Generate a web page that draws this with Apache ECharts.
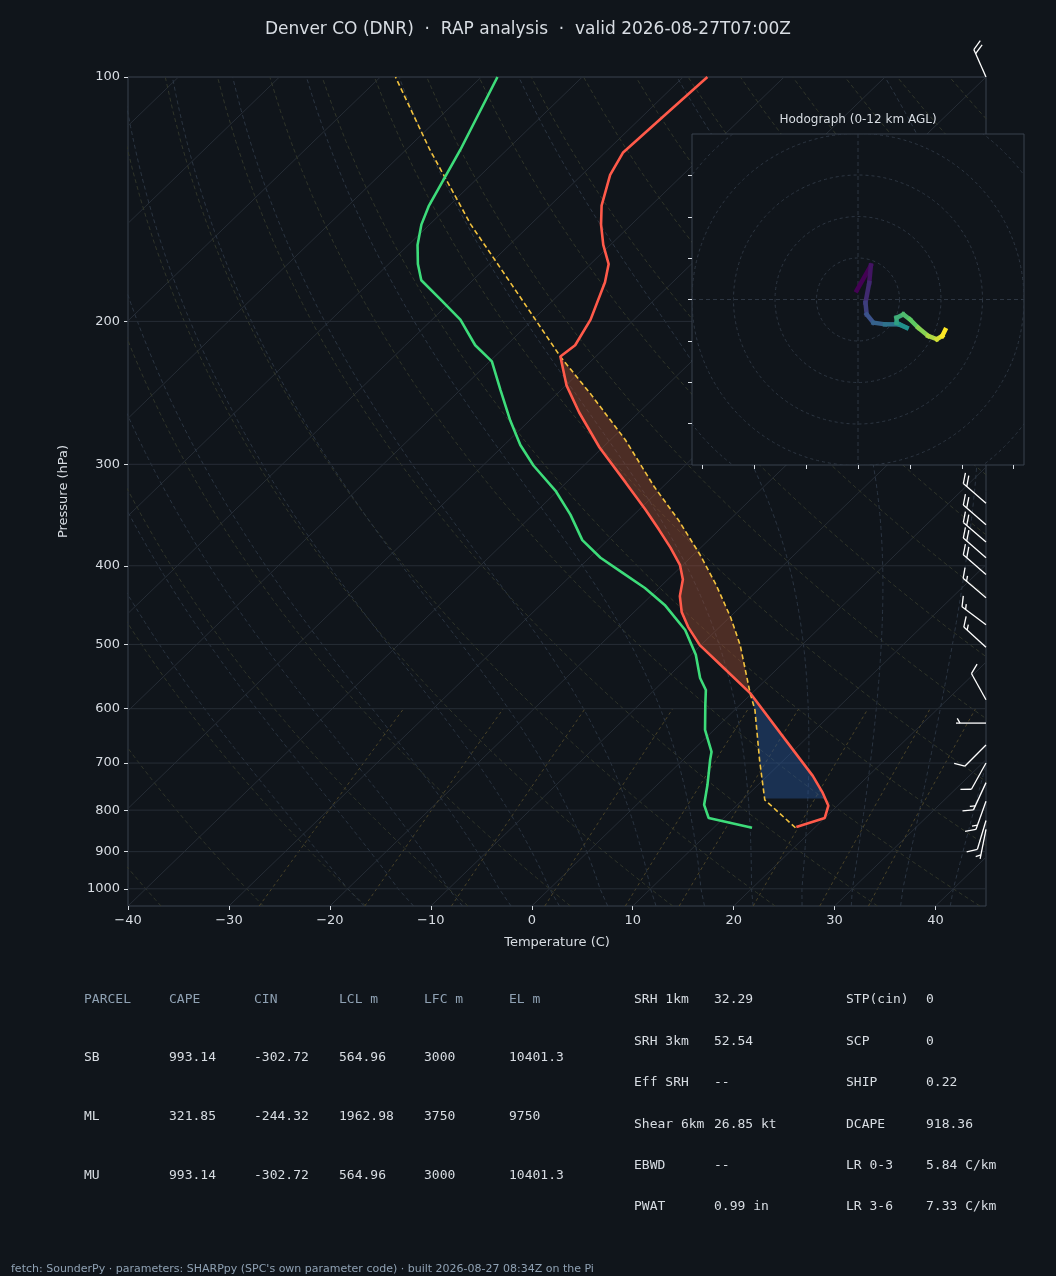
<!DOCTYPE html>
<html>
<head>
<meta charset="utf-8">
<script src="https://cdn.jsdelivr.net/npm/echarts@6/dist/echarts.min.js"></script>
<style>
html,body{margin:0;padding:0;background:#10151b;}
#chart{width:1056px;height:1276px;}
</style>
</head>
<body>
<div id="chart"></div>
<script>
// sounding: pressure (hPa) and temperature (C)
var tempP = [839, 818, 790, 760, 726, 643, 574, 530, 501, 476, 456, 436, 416, 399, 380, 361, 341, 316, 286, 259, 240, 221, 214, 199, 179, 170, 161, 152, 144, 132, 124, 111, 100];
var tempT = [18.1, 20.0, 19.1, 17.1, 14.5, 6.9, -0.2, -6.0, -10.1, -13.1, -15.3, -17.1, -18.5, -20.3, -23.0, -26.0, -29.4, -34.1, -40.3, -45.9, -49.9, -53.5, -53.2, -54.3, -56.7, -58.2, -60.7, -63.0, -64.9, -67.2, -68.2, -67.9, -67.6];
var dewP = [841, 818, 788, 745, 694, 678, 637, 594, 569, 550, 515, 480, 447, 426, 407, 391, 372, 346, 324, 301, 284, 265, 243, 224, 214, 199, 188, 178, 170, 161, 152, 144, 123, 100];
var dewT = [13.8, 8.5, 6.7, 5.0, 2.7, 2.0, -0.9, -3.4, -4.9, -6.7, -9.5, -13.1, -17.7, -21.4, -25.4, -28.9, -32.5, -36.3, -40.1, -45.0, -48.4, -51.9, -56.0, -59.8, -63.1, -67.2, -71.2, -75.1, -77.1, -79.1, -80.8, -82.0, -84.6, -88.4];
var parcelP = [841, 777, 694, 602, 574, 501, 463, 422, 388, 351, 320, 280, 246, 221, 186, 152, 123, 100];
var parcelT = [18.1, 12.2, 7.6, 2.0, -0.2, -6.1, -9.9, -14.7, -19.3, -25.1, -30.8, -38.5, -46.6, -53.5, -63.8, -75.9, -87.6, -98.5];
var cinLayer = [774, 574];
var capeLayer = [574, 221];

// wind barbs (kt)
var barbP = [100, 335, 356, 374, 391, 410, 438, 473, 504, 585, 625, 665, 700, 740, 780, 824, 845];
var barbU = [8, 15, 15, 15, 15, 15, 13, 12, 11, 5, 5, 7, 5, 6, 5, 3, 1];
var barbV = [-18, -13, -13, -13, -13, -13, -11, -9, -10, -9, 0, 7, 9, 13, 14, 10, 5];

// hodograph (kt)
var hodoU = [-0.3, 3.1, 2.7, 1.8, 2.1, 3.7, 6.5, 9.7, 11.7, 9.3, 9.3, 10.9, 12.5, 14.5, 16.9, 19.0, 20.3, 21.0];
var hodoV = [2.2, 8.2, 4.0, -0.8, -3.6, -5.6, -6.0, -6.0, -6.8, -5.6, -4.4, -3.6, -4.8, -6.8, -8.8, -9.6, -8.8, -7.4];
var hodoRings = [10, 20, 30, 40, 50];

var pressureTicks = [100, 200, 300, 400, 500, 600, 700, 800, 900, 1000];
var tempTicks = [-40, -30, -20, -10, 0, 10, 20, 30, 40];

var tableHead = ['PARCEL', 'CAPE', 'CIN', 'LCL m', 'LFC m', 'EL m'];
var tableRows = [
	['SB', '993.14', '-302.72', '564.96', '3000', '10401.3'],
	['ML', '321.85', '-244.32', '1962.98', '3750', '9750'],
	['MU', '993.14', '-302.72', '564.96', '3000', '10401.3']
];
var indexA = [['SRH 1km', '32.29'], ['SRH 3km', '52.54'], ['Eff SRH', '--'], ['Shear 6km', '26.85 kt'], ['EBWD', '--'], ['PWAT', '0.99 in']];
var indexB = [['STP(cin)', '0'], ['SCP', '0'], ['SHIP', '0.22'], ['DCAPE', '918.36'], ['LR 0-3', '5.84 C/km'], ['LR 3-6', '7.33 C/km']];

var PBOT = 1050, PTOP = 100;
function skewX(t, p) {
	return t + 85 * Math.log(PBOT / p) / Math.log(PBOT / PTOP);
}
function pts(P, T) {
	var out = [];
	for (var i = 0; i < P.length; i++) out.push([skewX(T[i], P[i]), Math.log(P[i])]);
	return out;
}
function interpT(P, T, p) {
	var lp = Math.log(p);
	for (var i = 0; i < P.length - 1; i++) {
		var a = Math.log(P[i]), b = Math.log(P[i + 1]);
		if ((lp <= a && lp >= b) || (lp >= a && lp <= b)) {
			return T[i] + (T[i + 1] - T[i]) * (lp - a) / (b - a);
		}
	}
	return T[T.length - 1];
}

// background reference lines
var bg = [];
function bgLine(data, color, type, w) {
	bg.push({type: 'line', xAxisIndex: 0, yAxisIndex: 0, data: data, showSymbol: false, silent: true, z: 1,
		lineStyle: {color: color, width: w || 1, type: type}});
}
for (var t = -120; t <= 40; t += 10) {
	bgLine([[skewX(t, PBOT), Math.log(PBOT)], [skewX(t, PTOP), Math.log(PTOP)]], '#262d36', 'solid');
}
for (var th = -40; th <= 200; th += 10) {
	var d = [];
	for (var p = PBOT; p >= PTOP; p -= 10) {
		var tk = (th + 273.15) * Math.pow(p / 1000, 0.2857) - 273.15;
		d.push([skewX(tk, p), Math.log(p)]);
	}
	bgLine(d, '#30352a', [4, 3]);
}
function moistStep(tk, p) {
	var tc = tk - 273.15;
	var es = 6.112 * Math.exp(17.67 * tc / (tc + 243.5));
	var rs = 0.622 * es / (p - es);
	var Rd = 287.04, Lv = 2.501e6, Cp = 1005.7;
	return (1 / p) * (Rd * tk + Lv * rs) / (Cp + Lv * Lv * rs * 0.622 / (Rd * tk * tk));
}
for (var t0 = -20; t0 <= 40; t0 += 5) {
	var d2 = [];
	var tk2 = t0 + 273.15;
	var tkd = tk2;
	for (var pp = 1000; pp <= PBOT; pp += 5) {
		tkd += moistStep(tkd, pp) * 5;
	}
	d2.push([skewX(tkd - 273.15, PBOT), Math.log(PBOT)]);
	for (var p2 = 1000; p2 >= PTOP; p2 -= 5) {
		d2.push([skewX(tk2 - 273.15, p2), Math.log(p2)]);
		tk2 -= moistStep(tk2, p2) * 5;
	}
	bgLine(d2, '#2b3542', [4, 3]);
}
var mixW = [0.0004, 0.001, 0.002, 0.004, 0.007, 0.01, 0.016, 0.024, 0.032];
mixW.forEach(function(w) {
	var d3 = [];
	for (var p3 = PBOT; p3 >= 600; p3 -= 25) {
		var e = w * p3 / (0.622 + w);
		var l = Math.log(e / 6.112);
		d3.push([skewX(243.5 * l / (17.67 - l), p3), Math.log(p3)]);
	}
	bgLine(d3, '#4a4328', [3, 3]);
});
pressureTicks.forEach(function(p) {
	bgLine([[-40, Math.log(p)], [45, Math.log(p)]], '#262d36', 'solid');
});

function layerFill(layer, color) {
	return {
		type: 'custom', xAxisIndex: 0, yAxisIndex: 0, data: [[0, 0]], silent: true, z: 2,
		renderItem: function(params, api) {
			var a = [], b = [];
			var n = 40;
			for (var i = 0; i <= n; i++) {
				var p = Math.exp(Math.log(layer[0]) + (Math.log(layer[1]) - Math.log(layer[0])) * i / n);
				a.push(api.coord([skewX(interpT(parcelP, parcelT, p), p), Math.log(p)]));
				b.unshift(api.coord([skewX(interpT(tempP, tempT, p), p), Math.log(p)]));
			}
			return {type: 'polygon', shape: {points: a.concat(b)}, style: {fill: color}};
		}
	};
}

var barbData = [];
for (var i = 0; i < barbP.length; i++) barbData.push([45, Math.log(barbP[i]), barbU[i], barbV[i]]);

function rot(v, deg) {
	var r = deg * Math.PI / 180;
	return [v[0] * Math.cos(r) - v[1] * Math.sin(r), v[0] * Math.sin(r) + v[1] * Math.cos(r)];
}

var viridis = [[68, 1, 84], [59, 82, 139], [33, 145, 140], [94, 201, 98], [253, 231, 37]];
function vcol(f) {
	var s = f * (viridis.length - 1);
	var k = Math.min(Math.floor(s), viridis.length - 2);
	var r = s - k;
	var c = viridis[k].map(function(x, j) { return Math.round(x + (viridis[k + 1][j] - x) * r); });
	return 'rgb(' + c.join(',') + ')';
}
var hodoData = [];
for (var h = 0; h < hodoU.length; h++) hodoData.push([hodoU[h], hodoV[h]]);

var txt = '#d8dde3', sub = '#8fa1b3';
var graphics = [
	{type: 'rect', shape: {x: 692, y: 134, width: 332, height: 331}, style: {fill: '#10151b', stroke: '#39424e', lineWidth: 1}, z: 5},
	{type: 'text', x: 858, y: 120, style: {text: 'Hodograph (0-12 km AGL)', fill: txt, font: '12px "DejaVu Sans"', textAlign: 'center', textVerticalAlign: 'middle'}, z: 5},
	{type: 'text', x: 11, y: 1269, style: {text: "fetch: SounderPy · parameters: SHARPpy (SPC's own parameter code) · built 2026-08-27 08:34Z on the Pi", fill: sub, font: '11px "DejaVu Sans"', textVerticalAlign: 'middle'}}
];
var colX = [84, 169, 254, 339, 424, 509];
tableHead.forEach(function(s, j) {
	graphics.push({type: 'text', x: colX[j], y: 1000, style: {text: s, fill: sub, font: '13px "DejaVu Sans Mono"', textVerticalAlign: 'middle'}});
});
tableRows.forEach(function(row, r) {
	row.forEach(function(s, j) {
		graphics.push({type: 'text', x: colX[j], y: 1058 + r * 59, style: {text: s, fill: txt, font: '13px "DejaVu Sans Mono"', textVerticalAlign: 'middle'}});
	});
});
[[indexA, 634, 714], [indexB, 846, 926]].forEach(function(g) {
	g[0].forEach(function(kv, r) {
		var y = 1000 + r * 41.4;
		graphics.push({type: 'text', x: g[1], y: y, style: {text: kv[0], fill: txt, font: '13px "DejaVu Sans Mono"', textVerticalAlign: 'middle'}});
		graphics.push({type: 'text', x: g[2], y: y, style: {text: kv[1], fill: txt, font: '13px "DejaVu Sans Mono"', textVerticalAlign: 'middle'}});
	});
});

var option = {
	backgroundColor: '#10151b',
	animation: false,
	title: {text: 'Denver CO (DNR)  ·  RAP analysis  ·  valid 2026-08-27T07:00Z', left: 'center', top: 16,
		textStyle: {color: txt, fontSize: 17, fontWeight: 'normal', fontFamily: 'DejaVu Sans'}},
	grid: [
		{left: 128, top: 77, width: 858, height: 829, show: true, borderColor: '#39424e', borderWidth: 1, backgroundColor: 'transparent'},
		{left: 692, top: 134, width: 332, height: 331}
	],
	xAxis: [
		{type: 'value', gridIndex: 0, min: -40, max: 45, name: 'Temperature (C)', nameLocation: 'middle', nameGap: 30,
			nameTextStyle: {color: txt, fontSize: 13, fontFamily: 'DejaVu Sans'},
			axisLine: {show: false, onZero: false}, splitLine: {show: false},
			axisTick: {show: true, length: 4, lineStyle: {color: txt}, customValues: tempTicks},
			axisLabel: {color: txt, fontSize: 13, fontFamily: 'DejaVu Sans', margin: 8, customValues: tempTicks,
				formatter: function(v) { return String(v).replace('-', '\u2212'); }}},
		{type: 'value', gridIndex: 1, min: -40, max: 40, axisLine: {show: false, onZero: false}, splitLine: {show: false},
			axisTick: {show: true, length: 4, lineStyle: {color: txt}, customValues: [-37.5, -25, -12.5, 0, 12.5, 25, 37.5]},
			axisLabel: {show: false}, z: 6}
	],
	yAxis: [
		{type: 'value', gridIndex: 0, inverse: true, min: Math.log(PTOP), max: Math.log(PBOT),
			name: 'Pressure (hPa)', nameLocation: 'middle', nameGap: 58, nameRotate: 90,
			nameTextStyle: {color: txt, fontSize: 13, fontFamily: 'DejaVu Sans'},
			axisLine: {show: false, onZero: false}, splitLine: {show: false},
			axisTick: {show: true, length: 4, lineStyle: {color: txt}, customValues: pressureTicks.map(Math.log)},
			axisLabel: {color: txt, fontSize: 13, fontFamily: 'DejaVu Sans', customValues: pressureTicks.map(Math.log),
				formatter: function(v) { return Math.round(Math.exp(v)); }}},
		{type: 'value', gridIndex: 1, min: -40, max: 40, axisLine: {show: false, onZero: false}, splitLine: {show: false},
			axisTick: {show: true, length: 4, lineStyle: {color: txt}, customValues: [-30, -20, -10, 0, 10, 20, 30]},
			axisLabel: {show: false}, z: 6}
	],
	graphic: graphics,
	series: bg.concat([
		layerFill(capeLayer, 'rgba(150,75,50,0.45)'),
		layerFill(cinLayer, 'rgba(40,85,150,0.45)'),
		{type: 'line', xAxisIndex: 0, yAxisIndex: 0, data: pts(parcelP, parcelT), showSymbol: false, z: 3,
			lineStyle: {color: '#f2c23e', width: 1.6, type: [5, 3]}},
		{type: 'line', xAxisIndex: 0, yAxisIndex: 0, data: pts(dewP, dewT), showSymbol: false, z: 3,
			lineStyle: {color: '#3ddc7a', width: 2.6}},
		{type: 'line', xAxisIndex: 0, yAxisIndex: 0, data: pts(tempP, tempT), showSymbol: false, z: 3,
			lineStyle: {color: '#ff5a4a', width: 2.6}},
		{type: 'custom', xAxisIndex: 0, yAxisIndex: 0, data: barbData, clip: false, silent: true, z: 4,
			renderItem: function(params, api) {
				var base = api.coord([api.value(0), api.value(1)]);
				var u = api.value(2), v = api.value(3);
				var spd = Math.sqrt(u * u + v * v);
				var dir = [-u / spd, v / spd];
				var L = 30;
				var end = [base[0] + dir[0] * L, base[1] + dir[1] * L];
				var kids = [{type: 'line', shape: {x1: base[0], y1: base[1], x2: end[0], y2: end[1]}, style: {stroke: '#ffffff', lineWidth: 1.3}}];
				var s = Math.round(spd / 5) * 5;
				var n10 = Math.floor(s / 10), n5 = (s % 10) >= 5 ? 1 : 0;
				var tick = rot(dir, 60);
				var pos = 0;
				for (var k = 0; k < n10 + n5; k++) {
					var len = k < n10 ? 11 : 5.5;
					if (n10 === 0 && k === 0) pos = 4;
					var sx = end[0] - dir[0] * pos, sy = end[1] - dir[1] * pos;
					kids.push({type: 'line', shape: {x1: sx, y1: sy, x2: sx + tick[0] * len, y2: sy + tick[1] * len}, style: {stroke: '#ffffff', lineWidth: 1.3}});
					pos += 4.5;
				}
				return {type: 'group', children: kids};
			}},
		{type: 'custom', xAxisIndex: 1, yAxisIndex: 1, data: [[0, 0]], silent: true, z: 6,
			renderItem: function(params, api) {
				var c = api.coord([0, 0]);
				var kids = [];
				var clip = {x: 692, y: 134, width: 332, height: 331};
				hodoRings.forEach(function(r) {
					kids.push({type: 'circle', shape: {cx: c[0], cy: c[1], r: api.size([r, 0])[0]},
						style: {fill: 'none', stroke: '#2d3642', lineWidth: 1, lineDash: [3, 3]}});
				});
				kids.push({type: 'line', shape: {x1: 692, y1: c[1], x2: 1024, y2: c[1]}, style: {stroke: '#2d3642', lineDash: [4, 3]}});
				kids.push({type: 'line', shape: {x1: c[0], y1: 134, x2: c[0], y2: 465}, style: {stroke: '#2d3642', lineDash: [4, 3]}});
				return {type: 'group', children: kids, clipPath: {type: 'rect', shape: clip}};
			}},
		{type: 'custom', xAxisIndex: 1, yAxisIndex: 1, data: [[0, 0]], silent: true, z: 7,
			renderItem: function(params, api) {
				var kids = [];
				for (var i = 0; i < hodoData.length - 1; i++) {
					var a = api.coord(hodoData[i]), b = api.coord(hodoData[i + 1]);
					kids.push({type: 'line', shape: {x1: a[0], y1: a[1], x2: b[0], y2: b[1]},
						style: {stroke: vcol(i / (hodoData.length - 2)), lineWidth: 4.5, lineCap: 'square'}});
				}
				return {type: 'group', children: kids};
			}}
	])
};
echarts.init(document.getElementById('chart')).setOption(option);
</script>
</body>
</html>
